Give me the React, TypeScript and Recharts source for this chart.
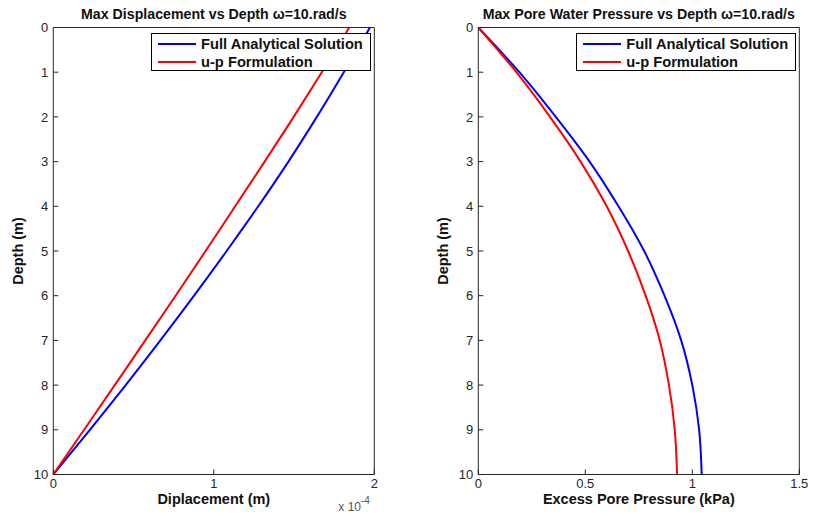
import { LineChart, Line, XAxis, YAxis, Legend, Label } from "recharts";

// depth (m) down the soil column
const depths = [0, 1, 2, 3, 4, 5, 6, 7, 8, 9, 10];

// max displacement, in units of 1e-4 m
const dispFull = [1.973, 1.81, 1.642, 1.465, 1.277, 1.08, 0.877, 0.667, 0.451, 0.228, 0];
const dispUp   = [1.844, 1.673, 1.498, 1.317, 1.133, 0.949, 0.762, 0.573, 0.383, 0.192, 0];

// max excess pore pressure, kPa
const poreFull = [0, 0.192, 0.362, 0.52, 0.655, 0.775, 0.87, 0.948, 1.0, 1.032, 1.044];
const poreUp   = [0, 0.178, 0.335, 0.478, 0.6, 0.7, 0.782, 0.848, 0.891, 0.918, 0.929];

const depthTicks = [0, 1, 2, 3, 4, 5, 6, 7, 8, 9, 10];
const dispTicks = [0, 1, 2];
const poreTicks = [0, 0.5, 1, 1.5];

const SERIES = [
  { key: "full", label: "Full Analytical Solution", color: "#0000ff" },
  { key: "up",   label: "u-p Formulation",          color: "#ff0000" },
];

const FONT = "'Liberation Sans', Arial, sans-serif";
const AXIS = "#262626";

const dispData = depths.map((d, i) => ({ depth: d, full: dispFull[i], up: dispUp[i] }));
const poreData = depths.map((d, i) => ({ depth: d, full: poreFull[i], up: poreUp[i] }));

function LegendBox() {
  return (
    <div style={{
      position: "relative", width: 220, height: 38, boxSizing: "border-box",
      border: "1px solid #000", background: "#fff", fontFamily: FONT,
    }}>
      {SERIES.map((s, i) => (
        <div key={s.key} style={{ position: "absolute", left: 6, top: 1 + i * 18, height: 18, display: "flex", alignItems: "center" }}>
          <svg width={38} height={4} style={{ display: "block" }}>
            <line x1={0} x2={38} y1={2} y2={2} stroke={s.color} strokeWidth={2} />
          </svg>
          <span style={{ marginLeft: 5, fontSize: 14.7, fontWeight: 700, color: "#111", whiteSpace: "nowrap" }}>{s.label}</span>
        </div>
      ))}
    </div>
  );
}

interface PanelProps {
  data: { depth: number; full: number; up: number }[];
  xTicks: number[];
  title: string;
  xLabel: string;
  left: number;
  width: number;
  yAxisWidth: number;
  rightMargin: number;
  legendLeft: number;
  multiplier?: boolean;
}

function Panel({ data, xTicks, title, xLabel, left, width, yAxisWidth, rightMargin, legendLeft, multiplier }: PanelProps) {
  const domain: [number, number] = [xTicks[0], xTicks[xTicks.length - 1]];
  const tickStyle = { fill: AXIS, fontSize: 13, fontFamily: FONT };
  return (
    <div style={{ position: "absolute", left, top: 0 }}>
      <LineChart
        width={width}
        height={516}
        data={data}
        layout="vertical"
        margin={{ top: 26.5, right: rightMargin, bottom: 11.5, left: 0 }}
      >
        <XAxis
          type="number" domain={domain} ticks={xTicks} allowDataOverflow
          height={30} tickSize={-5} tickMargin={9} tick={tickStyle}
          stroke={AXIS} tickFormatter={(v) => String(v)} interval={0}
        >
          <Label
            content={({ viewBox }: any) => (
              <g fontFamily={FONT}>
                <text x={viewBox.x + viewBox.width / 2} y={viewBox.y + 29} textAnchor="middle"
                  fontSize={14.5} fontWeight={700} fill="#111">{xLabel}</text>
                {multiplier && (
                  <text x={viewBox.x + viewBox.width - 36} y={viewBox.y + 36} fontSize={12} fill="#555">
                    x 10<tspan dy={-7} fontSize={10}>-4</tspan>
                  </text>
                )}
              </g>
            )}
          />
        </XAxis>
        <XAxis
          xAxisId="top" orientation="top" type="number" domain={domain} ticks={xTicks}
          allowDataOverflow height={1} tickSize={-5} tick={false} stroke={AXIS} interval={0}
        >
          <Label
            content={({ viewBox }: any) => (
              <text x={viewBox.x + viewBox.width / 2} y={viewBox.y - 7.5} textAnchor="middle"
                fontFamily={FONT} fontSize={14.2} fontWeight={700} fill="#111">{title}</text>
            )}
          />
        </XAxis>
        <YAxis
          dataKey="depth" type="number" domain={[0, 10]} ticks={depthTicks} allowDataOverflow
          width={yAxisWidth} tickSize={-5} tickMargin={10} tick={tickStyle} stroke={AXIS} interval={0}
        >
          <Label
            content={({ viewBox }: any) => {
              const cx = viewBox.x + viewBox.width - 35;
              const cy = viewBox.y + viewBox.height / 2;
              return (
                <text x={cx} y={cy} transform={`rotate(-90 ${cx} ${cy})`} textAnchor="middle"
                  dominantBaseline="central" fontFamily={FONT} fontSize={14.5} fontWeight={700} fill="#111">
                  Depth (m)
                </text>
              );
            }}
          />
        </YAxis>
        <YAxis
          yAxisId="right" orientation="right" type="number" domain={[0, 10]} ticks={depthTicks}
          allowDataOverflow width={1} tickSize={-5} tick={false} stroke={AXIS} interval={0}
        />
        {SERIES.map((s) => (
          <Line
            key={s.key} dataKey={s.key} name={s.label} type="monotone" stroke={s.color}
            strokeWidth={2} dot={false} isAnimationActive={false}
          />
        ))}
        <Legend
          layout="vertical" align="center" verticalAlign="middle"
          wrapperStyle={{ left: legendLeft, top: 33, width: 220, height: 38 }}
          content={() => <LegendBox />}
        />
      </LineChart>
    </div>
  );
}

export default function App() {
  return (
    <div style={{ position: "absolute", left: 0, top: 0, width: 814, height: 516, background: "#fff" }}>
      <Panel
        data={dispData} xTicks={dispTicks} title="Max Displacement vs Depth ω=10.rad/s"
        xLabel="Diplacement (m)" left={0} width={380} yAxisWidth={53.3} rightMargin={4.7}
        legendLeft={151} multiplier
      />
      <Panel
        data={poreData} xTicks={poreTicks} title="Max Pore Water Pressure vs Depth ω=10.rad/s"
        xLabel="Excess Pore Pressure (kPa)" left={420} width={394} yAxisWidth={58.3} rightMargin={13.7}
        legendLeft={156.3}
      />
    </div>
  );
}
